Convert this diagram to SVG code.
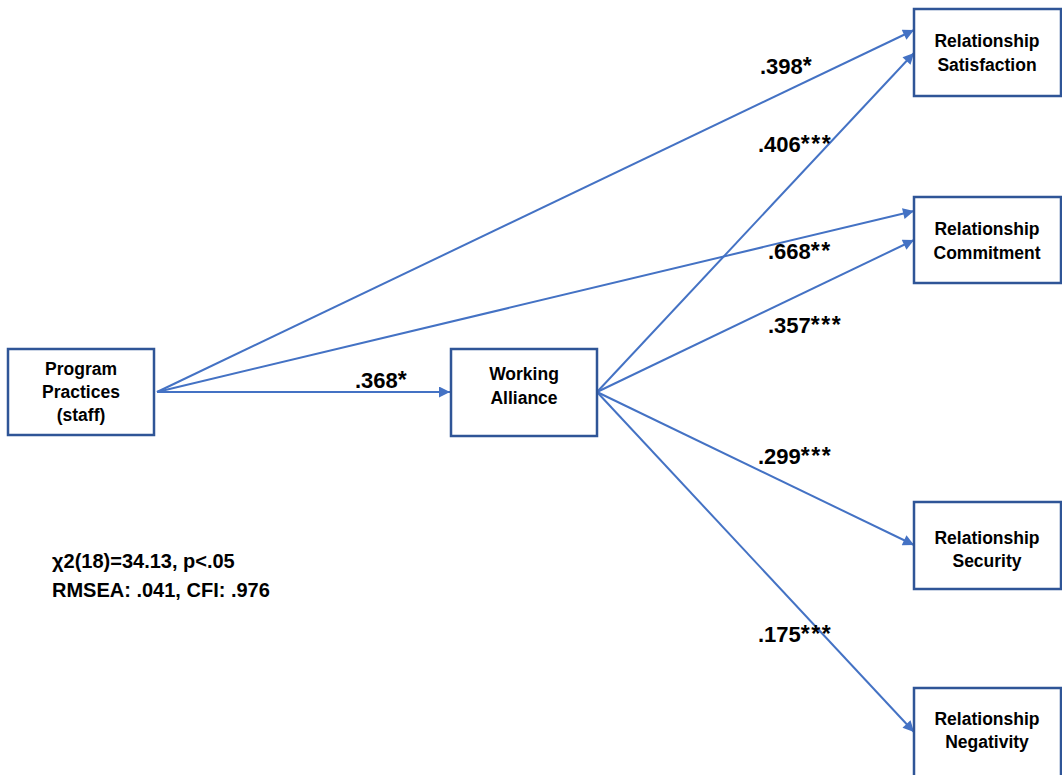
<svg xmlns="http://www.w3.org/2000/svg" width="1062" height="775" viewBox="0 0 1062 775">
<style>
.box{fill:#fff;stroke:#2F5597;stroke-width:2.5}
.t{font-family:"Liberation Sans",Arial,sans-serif;font-weight:bold;font-size:17.5px;fill:#000;text-anchor:middle}
.c{stroke:#4472C4;stroke-width:2;fill:none;marker-end:url(#ah)}
.lbl{font-family:"Liberation Sans",Arial,sans-serif;font-weight:bold;font-size:22px;fill:#000}
.ast{font-size:23px;letter-spacing:1.5px}
.st{font-family:"Liberation Sans",Arial,sans-serif;font-weight:bold;font-size:20px;fill:#000}
</style>
<defs>
<marker id="ah" viewBox="0 0 10 10" refX="10" refY="5" markerWidth="6" markerHeight="5.5" orient="auto" markerUnits="strokeWidth">
<path d="M0,0 L10,5 L0,10 z" fill="#4472C4"/>
</marker>
</defs>
<rect width="1062" height="775" fill="#fff"/>
<g id="connectors">
<line class="c" x1="157" y1="392" x2="914" y2="30"/>
<line class="c" x1="157" y1="392" x2="914" y2="211"/>
<line class="c" x1="157" y1="392" x2="450" y2="392"/>
<line class="c" x1="597" y1="392" x2="914" y2="53"/>
<line class="c" x1="597" y1="392" x2="914" y2="240"/>
<line class="c" x1="597" y1="392" x2="914" y2="545"/>
<line class="c" x1="597" y1="392" x2="914" y2="732"/>
</g>
<g id="labels">
<text class="lbl" x="760" y="74">.398<tspan class="ast">*</tspan></text>
<text class="lbl" x="758" y="152">.406<tspan class="ast">***</tspan></text>
<text class="lbl" x="768" y="259">.668<tspan class="ast">**</tspan></text>
<text class="lbl" x="768" y="333">.357<tspan class="ast">***</tspan></text>
<text class="lbl" x="355" y="388">.368<tspan class="ast">*</tspan></text>
<text class="lbl" x="758" y="464">.299<tspan class="ast">***</tspan></text>
<text class="lbl" x="758" y="642">.175<tspan class="ast">***</tspan></text>
</g>
<g id="program">
<rect class="box" x="8" y="349" width="146" height="86"/>
<text class="t" x="81" y="375">Program</text>
<text class="t" x="81" y="398">Practices</text>
<text class="t" x="81" y="421">(staff)</text>
</g>
<g id="alliance">
<rect class="box" x="451" y="349" width="146" height="87"/>
<text class="t" x="524" y="380">Working</text>
<text class="t" x="524" y="404">Alliance</text>
</g>
<g id="satisfaction">
<rect class="box" x="914" y="9" width="147" height="87"/>
<text class="t" x="987" y="47">Relationship</text>
<text class="t" x="987" y="71">Satisfaction</text>
</g>
<g id="commitment">
<rect class="box" x="914" y="197" width="147" height="86"/>
<text class="t" x="987" y="235">Relationship</text>
<text class="t" x="987" y="259">Commitment</text>
</g>
<g id="security">
<rect class="box" x="914" y="502" width="147" height="87"/>
<text class="t" x="987" y="544">Relationship</text>
<text class="t" x="987" y="567">Security</text>
</g>
<g id="negativity">
<rect class="box" x="914" y="688" width="147" height="92"/>
<text class="t" x="987" y="725">Relationship</text>
<text class="t" x="987" y="748">Negativity</text>
</g>
<g id="stats">
<text class="st" x="52" y="568">χ2(18)=34.13, p&lt;.05</text>
<text class="st" x="52" y="597">RMSEA: .041, CFI: .976</text>
</g>
</svg>
